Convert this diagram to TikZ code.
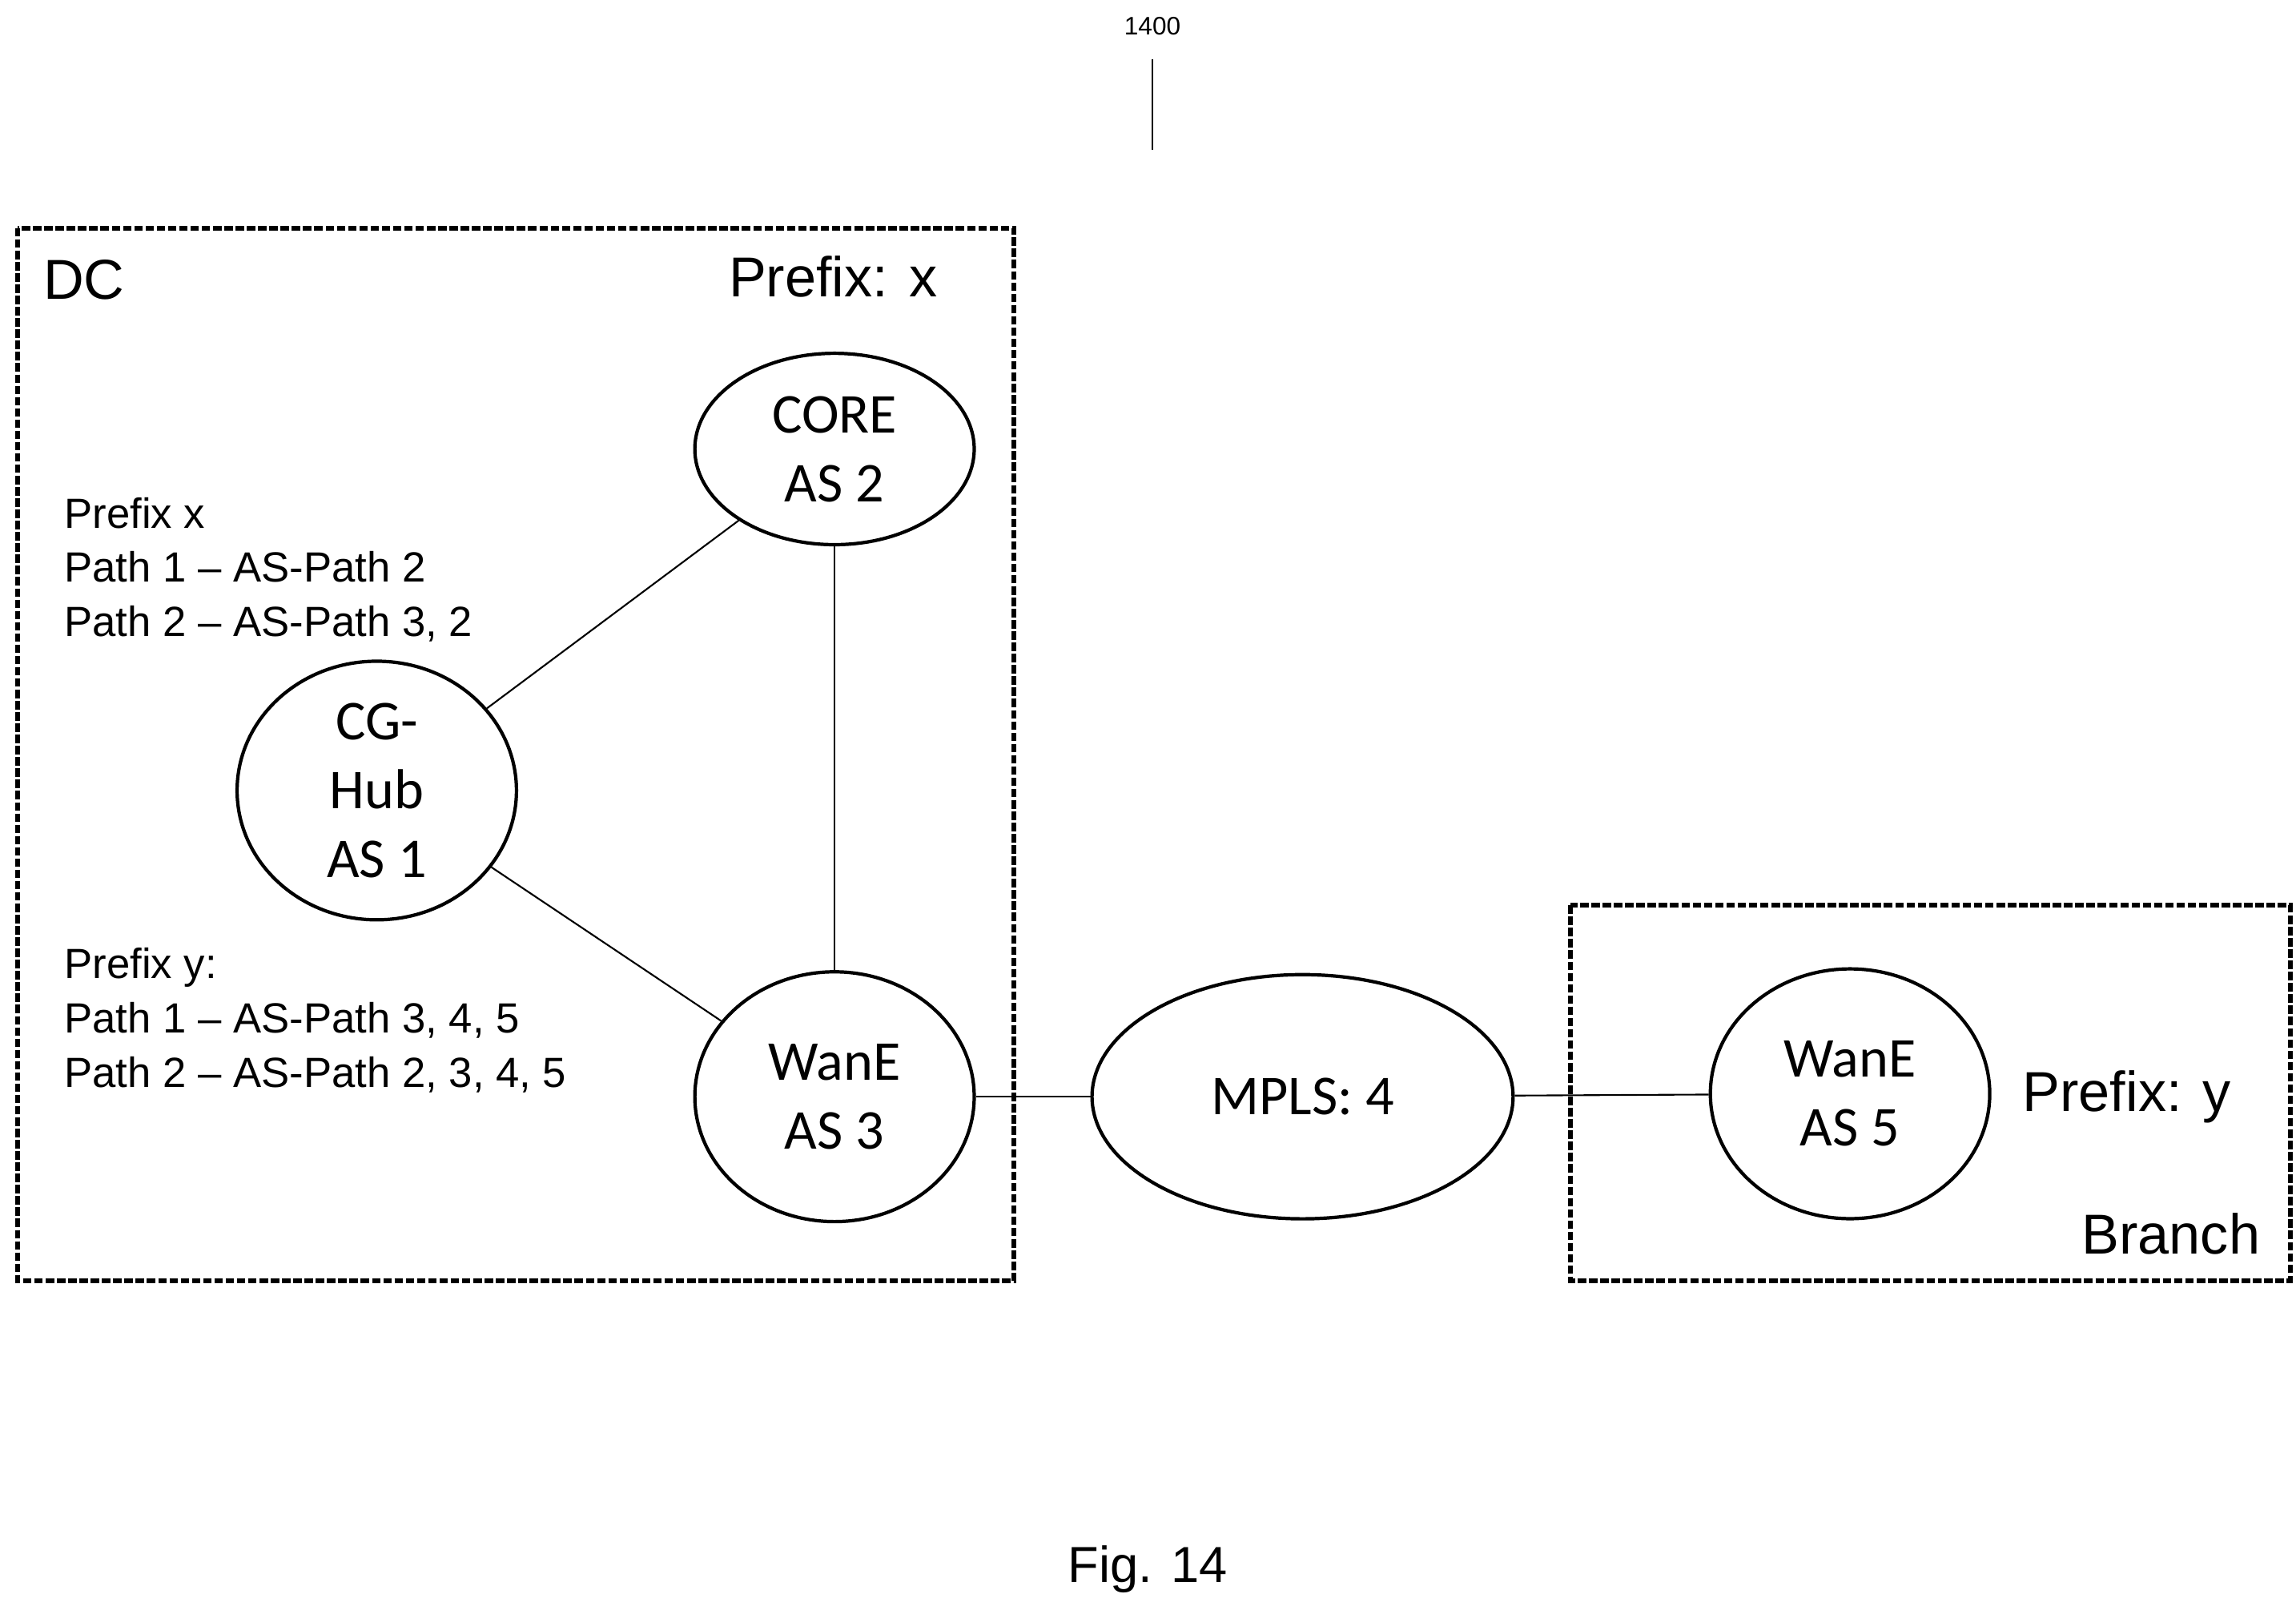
\documentclass[tikz,border=0pt]{standalone}
\usepackage{fontspec}
\setmainfont{Liberation Sans}
\newfontfamily\carlitofont{Carlito}
\usetikzlibrary{shapes.geometric}
\begin{document}
\begin{tikzpicture}[x=0.01838cm,y=-0.01838cm,
  box/.style={draw, line width=1.6pt, dash pattern=on 3pt off 1pt},
  el/.style={draw, ellipse, line width=1.2pt, align=center, font=\carlitofont\fontsize{20}{24.5}\selectfont, inner sep=0pt},
  lbl/.style={font=\fontsize{20}{24}\selectfont},
  txt/.style={anchor=west, align=left, font=\fontsize{15}{19.3}\selectfont},
  ln/.style={line width=0.6pt}]
\useasboundingbox (0,0) rectangle (1560,1090.5);
\node (num) at (783,18) {\fontsize{9}{10}\selectfont 1400};
\coordinate (n1) at (783,40); \coordinate (n2) at (783,102);
\draw[ln] (n1) -- (n2);
\draw[box] (12,155) rectangle (689,870);
\draw[box] (1067,615) rectangle (1556,870);
\node[lbl] (dc) at (57,190) {DC};
\node[lbl] (px) at (566,188) {Prefix: x};
\node[lbl] (py) at (1445,745) {Prefix: y};
\node[lbl] (br) at (1475,838) {Branch};
\node[el, minimum width=3.49cm, minimum height=2.39cm] (core) at (567,305) {CORE\\AS 2};
\node[el, minimum width=3.49cm, minimum height=3.23cm] (hub) at (256,537) {CG-\\Hub\\AS 1};
\node[el, minimum width=3.49cm, minimum height=3.12cm] (w3) at (567,745) {WanE\\AS 3};
\node[el, minimum width=5.26cm, minimum height=3.05cm] (mpls) at (885,745) {MPLS: 4};
\node[el, minimum width=3.49cm, minimum height=3.12cm] (w5) at (1257,743) {WanE\\AS 5};
\node[txt] (tx) at (37,387) {Prefix x\\Path 1 -- AS-Path 2\\Path 2 -- AS-Path 3, 2};
\node[txt] (ty) at (37,693) {Prefix y:\\Path 1 -- AS-Path 3, 4, 5\\Path 2 -- AS-Path 2, 3, 4, 5};
\draw[ln] (hub) -- (core);
\draw[ln] (hub) -- (w3);
\draw[ln] (core) -- (w3);
\draw[ln] (w3) -- (mpls);
\draw[ln] (mpls) -- (w5);
\node (fig) at (780,1066) {\fontsize{18}{22}\selectfont Fig. 14};
\end{tikzpicture}
\end{document}
